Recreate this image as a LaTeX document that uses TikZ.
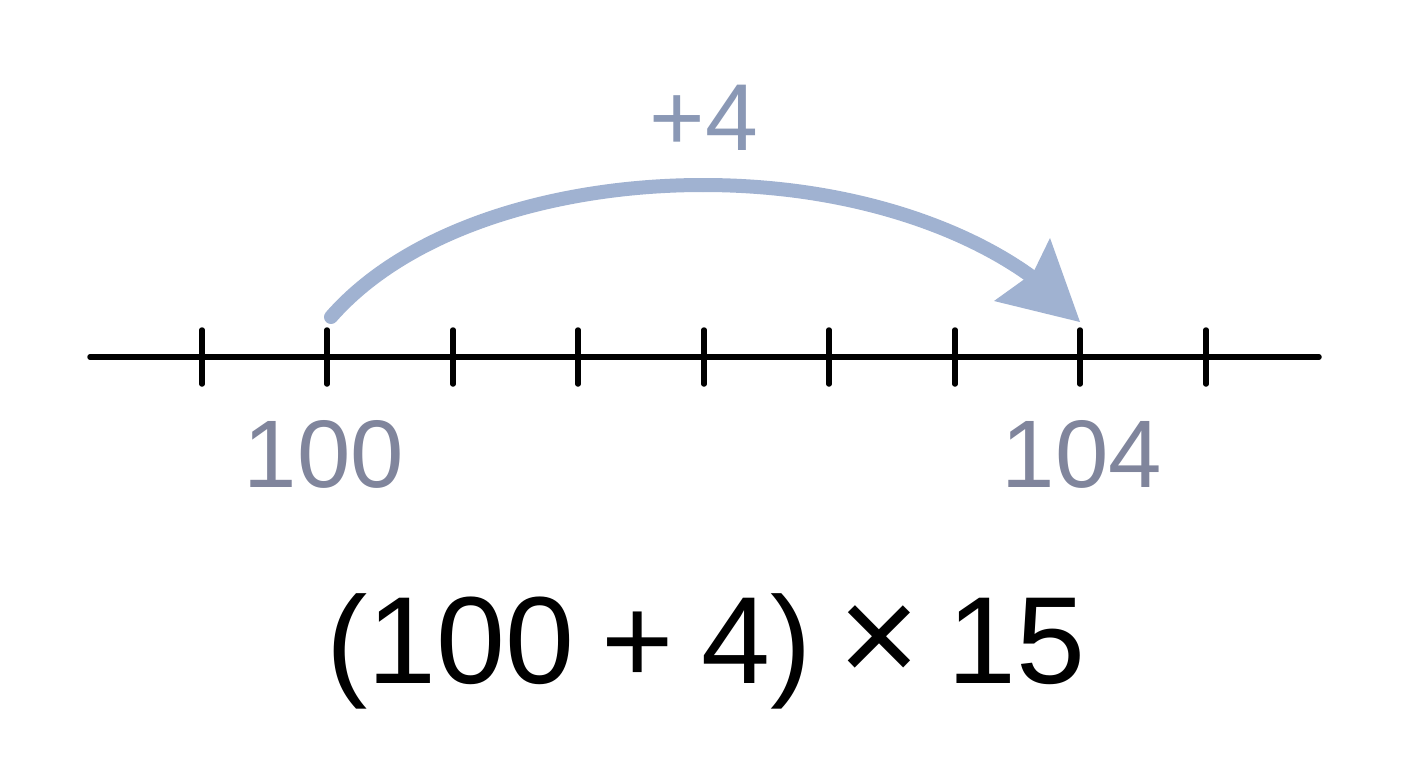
\documentclass[tikz,border=0pt]{standalone}
\usepackage{fontspec}
\setmainfont{Liberation Sans}
\definecolor{arcblue}{HTML}{A0B2D1}
\definecolor{plusblue}{HTML}{8A98B5}
\definecolor{labgray}{HTML}{80859C}
\begin{document}
\begin{tikzpicture}[x=1pt,y=-1pt,
  axisline/.style={line width=5.5pt,line cap=round,black},
  tickline/.style={line width=5.5pt,line cap=round,black},
  lab/.style={anchor=base,text=labgray,font=\fontsize{96}{100}\selectfont,inner sep=0pt},
  eq/.style={anchor=base,text=black,font=\fontsize{124}{130}\selectfont,inner sep=0pt}]
\useasboundingbox[fill=white] (0,0) rectangle (1408,768);
\coordinate (L) at (90,357);
\coordinate (R) at (1319,357);
\draw[axisline] (L) -- (R);
\foreach \x in {202,327,453,578,704,829,955,1080,1206}
  \draw[tickline] (\x,330) -- (\x,384);
% arc
\coordinate (s) at (331,317);
\coordinate (t) at (703,185);
\coordinate (e) at (1032,277);
\draw[arcblue,line width=14pt,line cap=round] (s) .. controls (410,227) and (560,185) .. (t);
\draw[arcblue,line width=14pt] (t) .. controls (850,185) and (965,228) .. (e);
\fill[arcblue] (994,301) -- (1080,322) -- (1050,238) -- (1033,273) -- cycle;
\node[lab] (a) at (324,487) {100};
\node[lab] (b) at (1082,487) {104};
\node[anchor=base,text=plusblue,font=\fontsize{95}{100}\selectfont,inner sep=0pt] (p) at (704,150) {+4};
\node[eq] (q) at (706,683) {\spaceskip=0.22em (100 + 4) {\fontsize{140}{140}\selectfont ×} 15};
\end{tikzpicture}
\end{document}
